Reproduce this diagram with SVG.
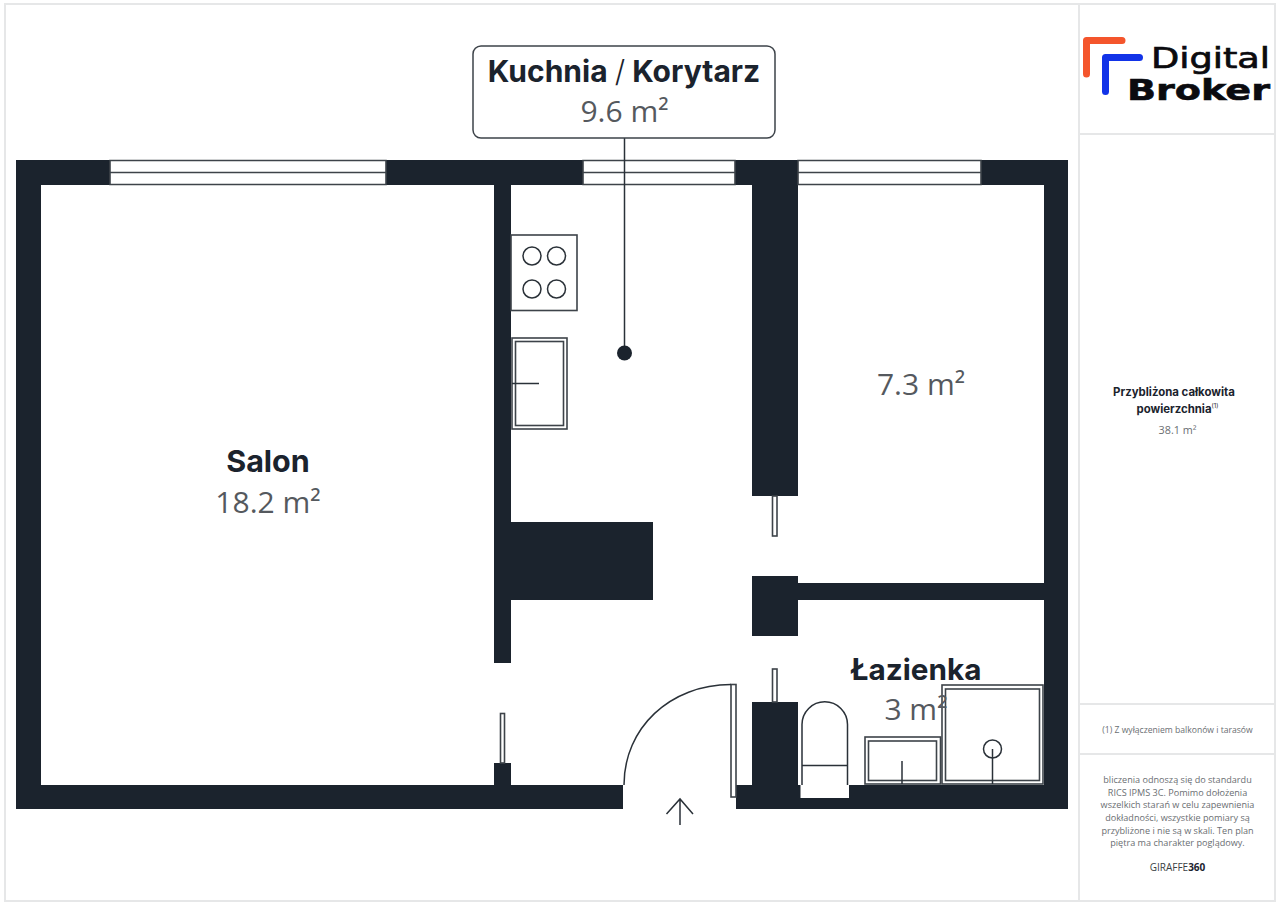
<svg xmlns="http://www.w3.org/2000/svg" width="1280" height="905" viewBox="0 0 1280 905">
<style>
.w{fill:#1b232d}
.o{fill:#fff;stroke:#3d4349;stroke-width:1.6}
.l{fill:none;stroke:#2a3138;stroke-width:1.5}
.f{fill:none;stroke:#e6e7e8;stroke-width:2}
.t{font-family:"Inter","Lato",sans-serif;font-weight:700;fill:#1b232d;text-anchor:middle}
.v{font-family:"Open Sans",sans-serif;fill:#55595e;text-anchor:middle}
.s{font-family:"Open Sans",sans-serif;fill:#6a6e72;font-size:9.1px;text-anchor:middle}
</style>
<rect width="1280" height="905" fill="#fff"/>
<g id="frame">
<rect class="f" x="5" y="4" width="1270" height="897"/>
<path class="f" d="M1079 4V901M1079 134H1275M1079 704H1275M1079 754H1275"/>
</g>
<g id="walls">
<path class="w" fill-rule="evenodd" d="M16 160H1068V809H736V785H1044V185H41V785H623V809H16Z"/>
<rect class="w" x="494" y="185" width="17" height="478"/>
<rect class="w" x="494" y="763" width="17" height="22"/>
<rect class="w" x="752" y="185" width="46" height="311"/>
<rect class="w" x="511" y="522" width="142" height="78"/>
<rect class="w" x="752" y="576" width="46" height="60"/>
<rect class="w" x="798" y="583" width="246" height="17"/>
<rect class="w" x="752" y="702" width="46" height="83"/>
</g>
<g id="windows">
<path class="o" d="M110 160.500H386V184.500H110ZM110 172.500H386"/>
<path class="o" d="M583 160.500H735V184.500H583ZM583 172.500H735"/>
<path class="o" d="M798 160.500H981V184.500H798ZM798 172.500H981"/>
</g>
<g id="doors">
<rect class="o" x="500.500" y="713.500" width="4" height="49.500"/>
<rect class="o" x="772.500" y="496" width="4.500" height="40"/>
<rect class="o" x="772.500" y="669" width="4.500" height="33"/>
<rect class="o" x="731" y="684.500" width="5" height="112.500"/>
<path class="l" d="M624 785C624 728 670 684.500 731 684.500"/>
<path class="l" d="M680 825V799M666.500 814L680 799L693 814"/>
</g>
<g id="hob">
<rect class="o" x="511" y="235" width="66" height="75.500"/>
<circle class="l" cx="532" cy="256" r="9"/><circle class="l" cx="556.500" cy="256" r="9"/>
<circle class="l" cx="532" cy="289" r="9"/><circle class="l" cx="556.500" cy="289" r="9"/>
</g>
<g id="kitchen-sink">
<rect class="o" x="512" y="338" width="55" height="91"/>
<rect class="o" x="515.500" y="341.500" width="48" height="84"/>
<path class="l" d="M512 383.500H539"/>
</g>
<g id="toilet">
<path class="l" d="M802 785V724.500A22.750 22.750 0 0 1 847.500 724.500V785M802 765.500H847.500"/>
<rect x="800.500" y="785" width="48.500" height="13" fill="#fff"/>
</g>
<g id="bath-sink">
<rect class="o" x="865" y="737" width="75.500" height="47"/>
<rect class="o" x="868.500" y="741" width="68" height="39.500"/>
<path class="l" d="M902 761V784"/>
</g>
<g id="shower">
<rect class="o" x="942" y="685" width="101" height="99"/>
<rect class="o" x="945.500" y="689" width="94" height="91.500"/>
<circle class="l" cx="992.500" cy="749" r="9"/>
<path class="l" d="M992.500 749V784"/>
</g>
<g id="salon">
<text class="t" x="268" y="472" font-size="30.500">Salon</text>
<text class="v" x="268" y="513" font-size="30">18.2 m²</text>
</g>
<g id="pokoj">
<text class="v" x="921" y="395" font-size="30">7.3 m²</text>
</g>
<g id="lazienka">
<text class="t" x="916" y="680" font-size="29.700">Łazienka</text>
<text class="v" x="916" y="720" font-size="30">3 m²</text>
</g>
<g id="connectors">
<path class="l" d="M624.500 138V353"/>
<circle cx="624.500" cy="353" r="7.500" class="w"/>
</g>
<g id="kuchnia">
<rect x="473" y="46" width="302" height="92" rx="8" fill="#fff" stroke="#3d4349" stroke-width="1.500"/>
<text class="t" x="624" y="82" font-size="30">Kuchnia <tspan font-weight="300">/</tspan> Korytarz</text>
<text class="v" x="624.500" y="122" font-size="30">9.6 m²</text>
</g>
<g id="logo">
<path d="M1122 40.500H1086.500V74" fill="none" stroke="#f4552c" stroke-width="7" stroke-linecap="round" stroke-linejoin="round"/>
<path d="M1139.500 57.500H1105.500V91.500" fill="none" stroke="#1233e8" stroke-width="7" stroke-linecap="round" stroke-linejoin="round"/>
<text x="1151" y="68" font-family="'DejaVu Sans',sans-serif" font-size="28.500" fill="#0b0b0f" stroke="#0b0b0f" stroke-width="0.7" textLength="119" lengthAdjust="spacingAndGlyphs">Digital</text>
<text x="1127" y="100" font-family="'DejaVu Sans',sans-serif" font-weight="700" font-size="27.500" fill="#0b0b0f" stroke="#0b0b0f" stroke-width="0.6" textLength="143" lengthAdjust="spacingAndGlyphs">Broker</text>
</g>
<g id="summary">
<text class="t" x="1174" y="396" font-size="11.400">Przybliżona całkowita</text>
<text class="t" x="1174" y="413" font-size="11.400">powierzchnia</text>
<text x="1215" y="408" font-family="Inter,sans-serif" font-size="6" fill="#1b232d" text-anchor="middle">(1)</text>
<text class="s" x="1177.500" y="434" style="font-size:10.800px">38.1 m²</text>
</g>
<g id="note">
<text class="s" x="1177.500" y="733" style="font-size:8.600px">(1) Z wyłączeniem balkonów i tarasów</text>
<text class="s" x="1177.500" y="783">bliczenia odnoszą się do standardu</text>
<text class="s" x="1177.500" y="796">RICS IPMS 3C. Pomimo dołożenia</text>
<text class="s" x="1177.500" y="808">wszelkich starań w celu zapewnienia</text>
<text class="s" x="1177.500" y="821">dokładności, wszystkie pomiary są</text>
<text class="s" x="1177.500" y="834">przybliżone i nie są w skali. Ten plan</text>
<text class="s" x="1177.500" y="846">piętra ma charakter poglądowy.</text>
<text class="s" x="1177.500" y="871" style="fill:#3a3f44;font-size:10px">GIRAFFE<tspan font-weight="700" fill="#1b232d">360</tspan></text>
</g>
</svg>
